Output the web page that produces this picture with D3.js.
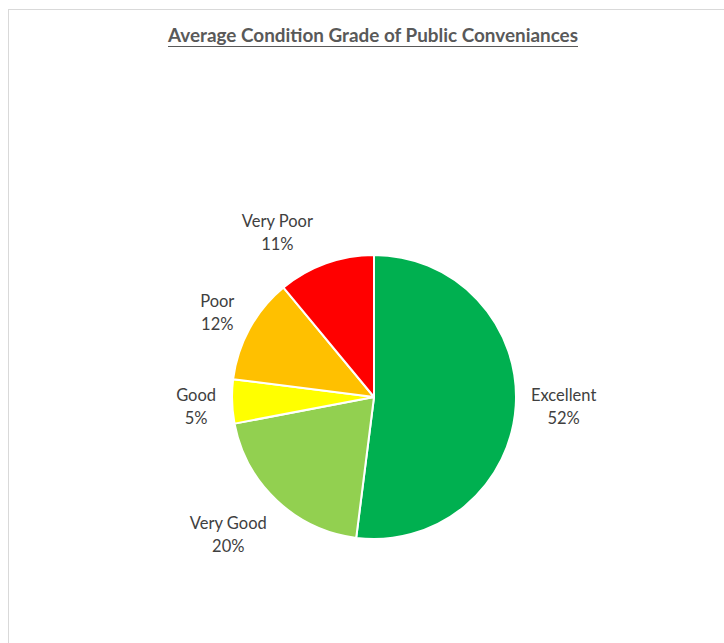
<!DOCTYPE html>
<html>
<head>
<meta charset="utf-8">
<script src="https://cdn.jsdelivr.net/npm/d3@7"></script>
<style>
  html, body { margin: 0; padding: 0; background: #fff; }
  svg { display: block; }
</style>
</head>
<body>
<svg id="chart" width="724" height="643"></svg>
<script>
// Condition grade categories, share of conveniences (%) and slice colours
const categories = ["Excellent", "Very Good", "Good", "Poor", "Very Poor"];
const shares = [52, 20, 5, 12, 11];
const colors = ["#00B050", "#92D050", "#FFFF00", "#FFC000", "#FF0000"];
const titleText = "Average Condition Grade of Public Conveniances";

// small per-label nudges (px) so the best-fit labels sit clear of the slices
const labelNudge = [[2, -2], [-17, 1], [10, 4], [8, 7], [-33, 13]];

const W = 724, H = 643;
const cx = 374, cy = 397, radius = 142, labelRadius = 188;

const svg = d3.select("#chart");

// chart area frame
svg.append("rect")
  .attr("x", 8.5).attr("y", 9.5)
  .attr("width", W + 20).attr("height", H + 20)
  .attr("fill", "#fff")
  .attr("stroke", "#d9d9d9").attr("stroke-width", 1);

// title, underlined
const titleW = 410;
svg.append("text")
  .attr("x", 373).attr("y", 42)
  .attr("text-anchor", "middle")
  .attr("font-family", "Lato, 'Open Sans', sans-serif")
  .attr("font-weight", "bold")
  .attr("font-size", 18.5)
  .attr("fill", "#595959")
  .attr("textLength", titleW)
  .attr("lengthAdjust", "spacingAndGlyphs")
  .text(titleText);
svg.append("line")
  .attr("x1", 373 - titleW / 2).attr("x2", 373 + titleW / 2)
  .attr("y1", 46.5).attr("y2", 46.5)
  .attr("stroke", "#595959").attr("stroke-width", 1.2);

const data = categories.map((c, i) => ({ name: c, value: shares[i], color: colors[i], nudge: labelNudge[i] }));
const pie = d3.pie().value(d => d.value).sort(null);
const arcs = pie(data);
const arc = d3.arc().innerRadius(0).outerRadius(radius);
const labelArc = d3.arc().innerRadius(labelRadius).outerRadius(labelRadius);

const g = svg.append("g").attr("transform", `translate(${cx},${cy})`);

g.selectAll("path.slice")
  .data(arcs)
  .join("path")
  .attr("class", "slice")
  .attr("d", arc)
  .attr("fill", d => d.data.color)
  .attr("stroke", "#fff")
  .attr("stroke-width", 2)
  .attr("stroke-linejoin", "round");

const total = d3.sum(shares);
const labels = g.selectAll("text.lbl")
  .data(arcs)
  .join("text")
  .attr("class", "lbl")
  .attr("text-anchor", "middle")
  .attr("font-family", "Lato, 'Open Sans', sans-serif")
  .attr("font-size", 16.5)
  .attr("fill", "#404040")
  .attr("transform", d => {
    const [x, y] = labelArc.centroid(d);
    return `translate(${x + d.data.nudge[0]},${y + d.data.nudge[1]})`;
  });
labels.append("tspan").attr("x", 0).attr("y", -6).text(d => d.data.name);
labels.append("tspan").attr("x", 0).attr("y", 17)
  .text(d => Math.round(d.data.value / total * 100) + "%");
</script>
</body>
</html>
